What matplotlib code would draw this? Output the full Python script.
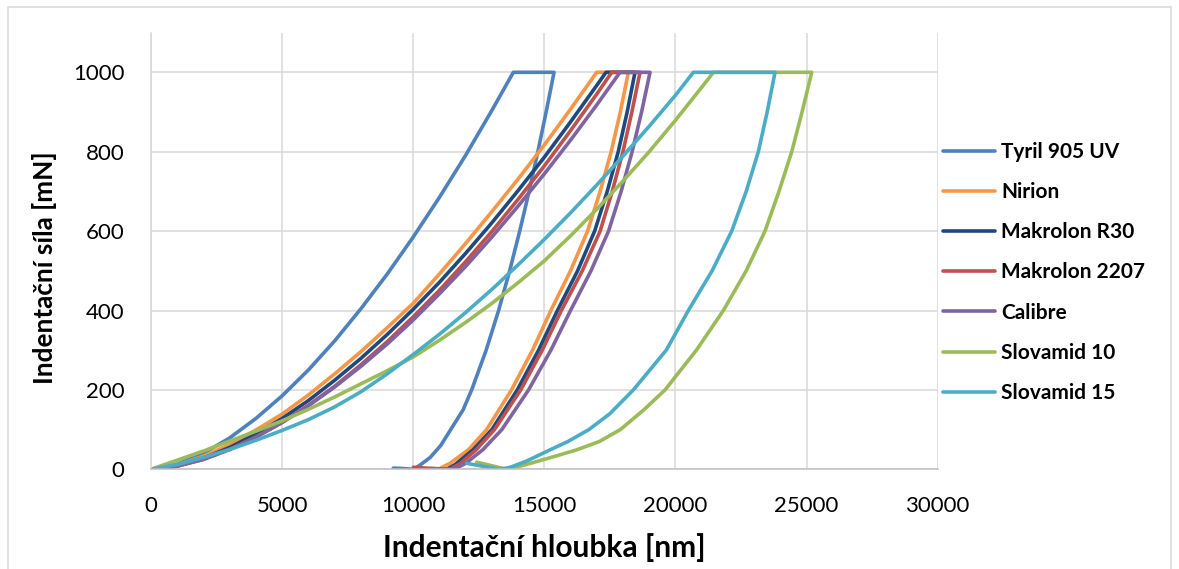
import matplotlib
matplotlib.use("Agg")
import matplotlib.pyplot as plt
from matplotlib.patches import Rectangle

plt.rcParams['font.family'] = ['Lato', 'DejaVu Sans']

# ---------------- data ----------------
series_names = ["Tyril 905 UV", "Nirion", "Makrolon R30", "Makrolon 2207",
                "Calibre", "Slovamid 10", "Slovamid 15"]
series_colors = ["#4F81BD", "#F79646", "#1F497D", "#C0504D",
                 "#8064A2", "#9BBB59", "#4BACC6"]

tyril_x = [0, 1000, 2000, 3000, 4000, 5000, 6000, 7000, 8000, 9000, 10000, 11000, 12000, 13000, 13819,
           15371, 15221, 15070, 14754, 14420, 14062, 13679, 13257, 12782, 12230, 11905, 11430, 11050,
           10650, 10250, 10005, 9600, 9240]
tyril_y = [0, 13, 40, 79, 128, 185, 250, 323, 404, 491, 585, 685, 791, 904, 1000,
           1000, 950, 900, 800, 700, 600, 500, 400, 300, 200, 150, 100, 60,
           30, 10, 0, 2, 3]

nirion_x = [0, 1000, 2000, 3000, 4000, 5000, 6000, 7000, 8000, 9000, 10000, 11000, 12000, 13000,
            14000, 15000, 16000, 17000,
            18206, 17900, 17550, 17130, 16650, 16000, 15250, 14550, 13750, 12800, 12100, 11400, 10950]
nirion_y = [0, 11, 33, 62, 99, 139, 187, 240, 296, 356, 418, 492, 569, 649, 731, 817, 907, 1000,
            1000, 900, 800, 700, 600, 500, 400, 300, 200, 100, 49, 15, 0]

r30_x = [0, 1000, 2000, 3000, 4000, 5000, 6000, 7000, 8000, 9000, 10000, 11000, 12000, 13000,
         14000, 15000, 16000, 17000, 17354,
         18460, 18160, 17820, 17400, 16920, 16270, 15500, 14780, 13970, 13000, 12280, 11600, 11278]
r30_y = [0, 9, 28, 55, 89, 128, 173, 224, 279, 339, 403, 471, 544, 621, 702, 786, 875, 967, 1000,
         1000, 900, 800, 700, 600, 500, 400, 300, 200, 100, 49, 12, 0]

m2207_x = [0, 1000, 2000, 3000, 4000, 5000, 6000, 7000, 8000, 9000, 10000, 11000, 12000, 13000,
           14000, 15000, 16000, 17000, 17571,
           18650, 18340, 18000, 17590, 17130, 16450, 15650, 14920, 14100, 13100, 12400, 11800,
           11400, 10700, 10005]
m2207_y = [0, 8, 25, 50, 81, 118, 161, 209, 263, 321, 384, 451, 523, 599, 680, 764, 853, 945, 1000,
           1000, 900, 800, 700, 600, 500, 400, 300, 200, 100, 49, 15,
           0, 2, 5]

calibre_x = [0, 1000, 2000, 3000, 4000, 5000, 6000, 7000, 8000, 9000, 10000, 11000, 12000, 13000,
             14000, 15000, 16000, 17000, 17888,
             19032, 18710, 18350, 17930, 17450, 16780, 16000, 15250, 14400, 13380, 12650, 12000,
             11550, 11100, 10650]
calibre_y = [0, 8, 25, 50, 81, 118, 160, 207, 259, 315, 376, 442, 511, 585, 663, 744, 829, 918, 1000,
             1000, 900, 800, 700, 600, 500, 400, 300, 200, 100, 49, 15,
             0, 1, 2]

slov10_x = [0, 1000, 2000, 3000, 4000, 5000, 6000, 7000, 8000, 9000, 10000, 11000, 12000, 13000,
            14000, 15000, 16000, 17000, 18000, 19000, 20000, 21000, 21448,
            25200, 24830, 24437, 23950, 23418, 22700, 21829, 20800, 19605, 18800, 17900, 17100,
            16236, 15000, 14200, 13566, 12422]
slov10_y = [0, 23, 46, 71, 96, 122, 151, 182, 215, 248, 283, 325, 370, 418, 470, 525, 588, 655,
            726, 800, 879, 962, 1000,
            1000, 900, 800, 700, 600, 500, 400, 300, 200, 150, 100, 70,
            49, 25, 10, 0, 18]

slov15_x = [0, 1000, 2000, 3000, 4000, 5000, 6000, 7000, 8000, 9000, 10000, 11000, 12000, 13000,
            14000, 15000, 16000, 17000, 18000, 19000, 20000, 20685,
            23800, 23500, 23163, 22700, 22148, 21400, 20494, 19650, 18396, 17500, 16700, 15900,
            15219, 14300, 13700, 13311, 12040]
slov15_y = [0, 12, 30, 50, 73, 98, 125, 157, 195, 240, 289, 340, 395, 453, 515, 579, 646, 716,
            789, 864, 942, 1000,
            1000, 900, 800, 700, 600, 500, 400, 300, 200, 140, 100, 70,
            49, 20, 5, 0, 15]

series_x = [tyril_x, nirion_x, r30_x, m2207_x, calibre_x, slov10_x, slov15_x]
series_y = [tyril_y, nirion_y, r30_y, m2207_y, calibre_y, slov10_y, slov15_y]

x_ticks = [0, 5000, 10000, 15000, 20000, 25000, 30000]
y_ticks = [0, 200, 400, 600, 800, 1000]
x_label = "Indentační hloubka [nm]"
y_label = "Indentační síla [mN]"

# ---------------- figure ----------------
W, H = 1179, 569
fig = plt.figure(figsize=(W / 100, H / 100), dpi=100)
ax = fig.add_axes([151 / W, 1 - 469.3 / H, 786.6 / W, 436.7 / H])

for xs, ys, name, col in zip(series_x, series_y, series_names, series_colors):
    ax.plot(xs, ys, color=col, lw=2.6, label=name,
            solid_joinstyle='round', solid_capstyle='round')

ax.set_xlim(0, 30000)
ax.set_ylim(0, 1100)
ax.set_xticks(x_ticks)
ax.set_yticks(y_ticks)
ax.set_xticklabels([str(v) for v in x_ticks])
ax.set_yticklabels([str(v) for v in y_ticks])
ax.grid(True, color="#D9D9D9", lw=1.1)
ax.set_axisbelow(True)
ax.tick_params(length=0, labelsize=16, colors="#000000")
ax.tick_params(axis='x', pad=19)
ax.tick_params(axis='y', pad=19)
for s in ("top", "right"):
    ax.spines[s].set_visible(False)
ax.spines["left"].set_color("#D9D9D9")
ax.spines["bottom"].set_color("#BFBFBF")
ax.spines["left"].set_linewidth(1.1)
ax.spines["bottom"].set_linewidth(1.1)

ax.set_xlabel(x_label, fontsize=21.5, fontweight='bold')
ax.set_ylabel(y_label, fontsize=18.8, fontweight='bold')
ax.xaxis.label.set_va('center')
ax.yaxis.label.set_va('center')
ax.xaxis.set_label_coords((544 - 151) / 786.6, (469.3 - 548) / 436.7)
ax.yaxis.set_label_coords((45 - 151) / 786.6, (469.3 - 268) / 436.7)

leg = fig.legend(loc='center left', bbox_to_anchor=(943 / W, 1 - 272.5 / H),
                 frameon=False, handlelength=2.5, handletextpad=0.3,
                 labelspacing=0.97, borderpad=0, borderaxespad=0,
                 prop={'weight': 'bold', 'size': 15})

fig.patches.append(Rectangle((8 / W, -0.05), 1163 / W, 1 - 7 / H + 0.05,
                             transform=fig.transFigure, fill=False,
                             edgecolor="#D9D9D9", lw=1.1))

fig.savefig("out.png", dpi=100)
